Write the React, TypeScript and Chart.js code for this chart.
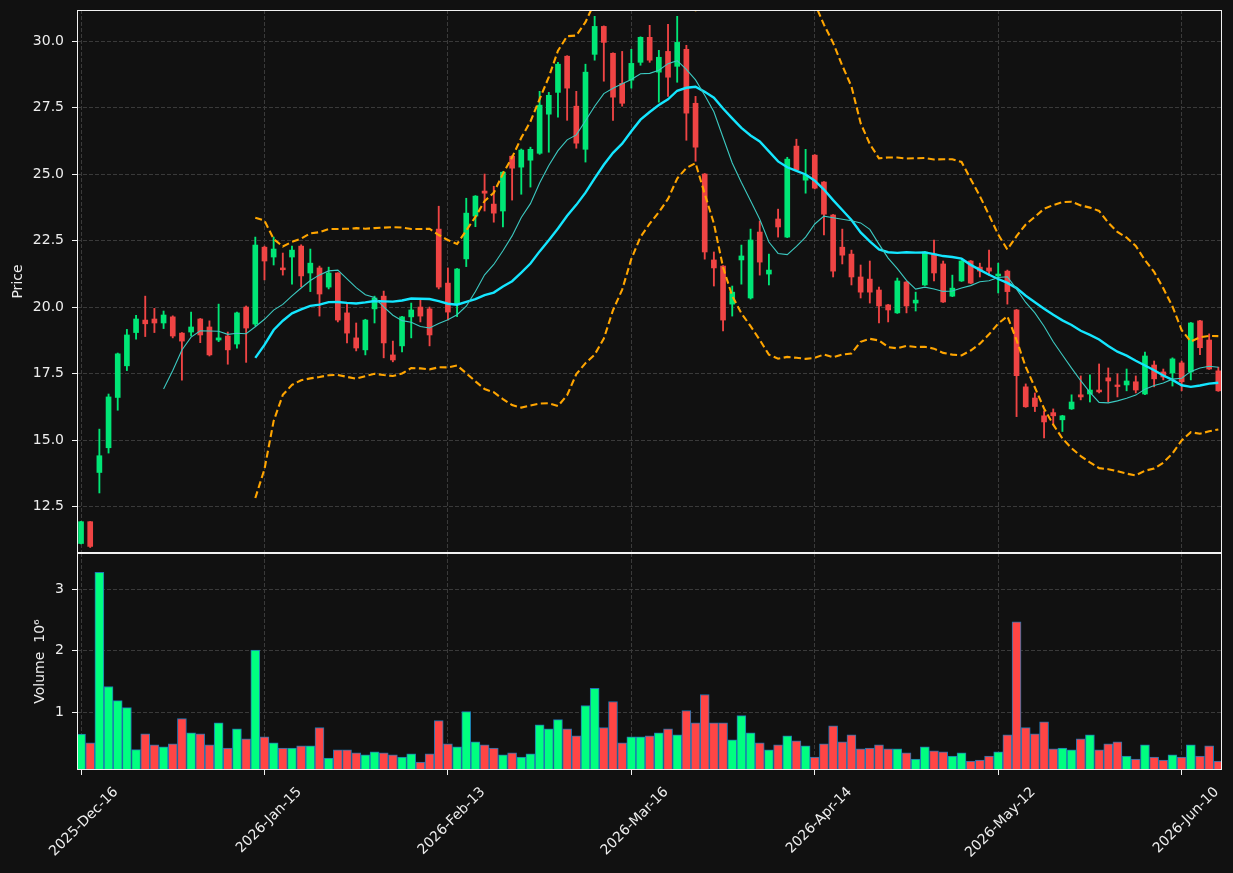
import React, { useEffect, useRef } from 'react';
import { Chart, registerables } from 'chart.js';

Chart.register(...registerables);

// ---- Data ----
const opens = [
  11.12, 11.94, 13.79, 14.72, 16.61, 17.8, 19.05, 19.52, 19.56, 19.41,
  19.64, 19.03, 19.07, 19.56, 19.26, 18.77, 18.92, 18.62, 20.01, 19.37,
  22.26, 21.89, 21.48, 21.89, 22.3, 21.29, 21.48, 20.76, 21.29, 19.79,
  18.85, 18.4, 19.94, 20.42, 18.21, 18.55, 19.64, 20.01, 19.94, 22.94,
  20.91, 20.12, 21.82, 23.43, 24.37, 23.88, 23.62, 25.68, 25.27, 25.53,
  25.79, 27.26, 28.08, 29.44, 27.56, 25.94, 29.51, 30.56, 29.55, 28.42,
  28.54, 29.21, 30.15, 28.84, 29.62, 29.06, 29.7, 27.67, 25.01, 21.78,
  21.55, 20.12, 21.78, 20.35, 22.83, 21.25, 23.32, 22.64, 26.06, 24.78,
  25.72, 24.71, 23.47, 22.26, 22.0, 21.14, 21.06, 20.65, 20.09, 19.79,
  20.95, 20.16, 20.84, 22.0, 21.63, 20.42, 20.99, 21.74, 21.51, 21.48,
  21.18, 21.36, 19.9, 17.01, 16.59, 15.92, 16.04, 15.77, 16.18, 16.71,
  16.74, 16.89, 17.35, 17.08, 17.08, 17.2, 16.74, 17.83, 17.57, 17.53,
  17.91, 17.57, 19.49, 18.77, 17.61,
];
const highs = [
  11.95, 11.95, 15.42, 16.74, 18.28, 19.17, 19.7, 20.42, 19.96, 19.86,
  19.68, 19.05, 19.82, 19.58, 19.49, 20.12, 19.07, 19.82, 20.05, 22.64,
  22.3, 22.64, 22.04, 22.3, 22.35, 22.19, 21.55, 21.51, 21.3, 20.16,
  19.41, 19.55, 20.42, 20.61, 18.73, 19.66, 20.16, 20.31, 20.01, 23.8,
  21.48, 21.46, 24.1, 24.2, 25.01, 24.55, 25.1, 25.7, 25.95, 26.02,
  28.12, 28.08, 29.21, 29.46, 28.12, 29.14, 30.94, 30.58, 29.57, 29.62,
  29.7, 30.17, 30.6, 29.66, 30.64, 30.94, 29.85, 27.93, 25.03, 22.08,
  21.57, 20.8, 22.34, 22.94, 23.24, 22.0, 23.69, 25.64, 26.32, 25.94,
  25.74, 24.73, 23.49, 22.94, 22.15, 21.59, 21.74, 20.76, 20.11, 21.1,
  20.97, 20.57, 22.1, 22.53, 21.74, 21.21, 21.76, 21.76, 21.66, 22.15,
  21.66, 21.4, 19.92, 17.12, 16.78, 16.11, 16.18, 15.94, 16.71, 17.42,
  17.46, 17.87, 17.72, 17.5, 17.68, 17.42, 18.32, 17.98, 17.68, 18.1,
  17.98, 19.43, 19.51, 19.0, 17.75,
];
const lows = [
  11.1, 10.97, 13.02, 14.52, 16.13, 17.62, 18.8, 18.9, 19.05, 19.2,
  18.85, 17.26, 18.92, 18.67, 18.17, 18.71, 17.86, 18.46, 17.93, 19.3,
  21.03, 21.59, 21.21, 20.87, 20.77, 20.59, 19.67, 20.69, 19.45, 18.66,
  18.36, 18.21, 19.41, 18.1, 17.95, 18.32, 18.85, 19.45, 18.55, 20.69,
  19.52, 19.65, 21.53, 23.03, 23.62, 23.2, 23.02, 24.03, 24.25, 24.52,
  25.75, 25.83, 27.15, 27.03, 25.98, 25.46, 29.29, 28.5, 27.03, 27.56,
  28.24, 29.1, 29.21, 27.71, 27.93, 28.46, 26.28, 25.49, 21.81, 20.8,
  19.11, 19.67, 20.87, 20.31, 21.21, 20.84, 22.64, 22.62, 25.14, 24.29,
  24.45, 22.72, 21.14, 21.63, 20.84, 20.35, 20.16, 19.41, 19.45, 19.77,
  19.79, 19.86, 20.82, 20.99, 20.18, 20.4, 20.97, 20.89, 21.14, 21.21,
  20.54, 20.12, 15.89, 16.24, 16.08, 15.09, 15.62, 15.33, 16.16, 16.52,
  16.44, 16.78, 16.44, 16.63, 16.86, 16.78, 16.72, 17.01, 17.27, 17.04,
  16.86, 17.27, 18.22, 17.66, 16.84,
];
const closes = [
  11.94, 11.01, 14.42, 16.63, 18.25, 18.96, 19.56, 19.38, 19.41, 19.71,
  18.92, 18.73, 19.26, 18.96, 18.21, 18.85, 18.4, 19.79, 19.22, 22.34,
  21.74, 22.19, 21.41, 22.15, 21.18, 21.66, 20.5, 21.29, 19.52, 19.03,
  18.47, 19.52, 20.35, 18.66, 18.02, 19.64, 19.9, 19.67, 18.96, 20.76,
  19.82, 21.44, 23.54, 24.18, 24.29, 23.54, 25.08, 25.23, 25.91, 25.94,
  27.6, 27.97, 29.14, 28.24, 26.17, 28.84, 30.56, 29.96, 27.9, 27.67,
  29.17, 30.15, 29.29, 29.4, 28.65, 29.96, 27.3, 26.02, 22.08, 21.48,
  19.52, 20.57, 21.93, 22.53, 21.7, 21.4, 23.02, 25.57, 25.16, 24.97,
  24.48, 23.5, 21.36, 21.96, 21.14, 20.57, 20.57, 20.05, 19.9, 20.99,
  20.05, 20.27, 22.08, 21.29, 20.2, 20.72, 21.74, 20.91, 21.36, 21.36,
  21.25, 20.59, 17.43, 16.26, 16.27, 15.69, 15.92, 15.92, 16.44, 16.63,
  16.89, 16.82, 17.23, 17.02, 17.23, 16.89, 18.17, 17.31, 17.38, 18.06,
  17.2, 19.41, 18.48, 17.68, 16.86,
];
// volume in millions
const volumes = [
  0.645, 0.503, 3.274, 1.42, 1.19, 1.077, 0.393, 0.65, 0.47, 0.44,
  0.487, 0.897, 0.667, 0.65, 0.47, 0.83, 0.42, 0.733, 0.569, 2.01,
  0.6, 0.503, 0.42, 0.42, 0.454, 0.454, 0.75, 0.257, 0.389, 0.389,
  0.34, 0.307, 0.356, 0.34, 0.307, 0.274, 0.323, 0.19, 0.323, 0.864,
  0.487, 0.438, 1.01, 0.52, 0.47, 0.42, 0.307, 0.34, 0.274, 0.323,
  0.798, 0.733, 0.88, 0.733, 0.618, 1.11, 1.39, 0.75, 1.175, 0.503,
  0.6, 0.6, 0.618, 0.667, 0.733, 0.634, 1.03, 0.83, 1.29, 0.83,
  0.83, 0.552, 0.946, 0.667, 0.503, 0.389, 0.47, 0.618, 0.536, 0.454,
  0.274, 0.487, 0.782, 0.52, 0.634, 0.405, 0.42, 0.47, 0.405, 0.405,
  0.34, 0.241, 0.438, 0.372, 0.356, 0.29, 0.34, 0.208, 0.225, 0.29,
  0.356, 0.634, 2.47, 0.75, 0.65, 0.847, 0.405, 0.42, 0.389, 0.569,
  0.634, 0.389, 0.487, 0.52, 0.29, 0.241, 0.47, 0.274, 0.225, 0.307,
  0.274, 0.47, 0.29, 0.454, 0.208,
];
const tickPositions = [0, 20, 40, 60, 80, 100, 120];
const tickLabels = ['2025-Dec-16', '2026-Jan-15', '2026-Feb-13', '2026-Mar-16', '2026-Apr-14', '2026-May-12', '2026-Jun-10'];
const priceTicks = [12.5, 15, 17.5, 20, 22.5, 25, 27.5, 30];
const volumeTicks = [1, 2, 3];

// ---- indicators derived from closes ----
function rollingMean(src: number[], n: number): (number | null)[] {
  return src.map((_, i) => {
    if (i < n - 1) return null;
    const w = src.slice(i - n + 1, i + 1);
    return w.reduce((a, b) => a + b, 0) / n;
  });
}
function rollingStd(src: number[], n: number): (number | null)[] {
  return src.map((_, i) => {
    if (i < n - 1) return null;
    const w = src.slice(i - n + 1, i + 1);
    const m = w.reduce((a, b) => a + b, 0) / n;
    return Math.sqrt(w.reduce((a, b) => a + (b - m) * (b - m), 0) / n);
  });
}

const BG = '#111111';
const UP = '#00e676';
const DOWN = '#ef4444';
const VUP = '#00ff80';
const VDOWN = '#ff4545';
const GRID = '#3a3a3a';
const TEXT = '#eeeeee';
const FONT = 'DejaVu Sans';

const framePlugin = {
  id: 'frame',
  afterDatasetsDraw(chart: any) {
    const { ctx, chartArea: a } = chart;
    ctx.save();
    ctx.strokeStyle = '#f2f2f2';
    ctx.lineWidth = 1;
    ctx.setLineDash([]);
    ctx.strokeRect(a.left + 0.5, a.top + 0.5, a.right - a.left - 1, a.bottom - a.top - 1);
    ctx.restore();
  },
};

export default function App() {
  const priceRef = useRef<HTMLCanvasElement>(null);
  const volRef = useRef<HTMLCanvasElement>(null);

  useEffect(() => {
    document.body.style.margin = '0';
    document.body.style.background = BG;
    Chart.defaults.font.family = FONT;

    const idx = closes.map((_, i) => i);
    const up = closes.map((c, i) => c >= opens[i]);
    const ma10 = rollingMean(closes, 10);
    const ma20 = rollingMean(closes, 20);
    const sd20 = rollingStd(closes, 20);
    const toPts = (arr: (number | null)[]) =>
      arr.map((v, i) => (v == null ? null : { x: i, y: v })).filter((p) => p !== null);
    const upper = ma20.map((m, i) => (m == null ? null : m + 2 * (sd20[i] as number)));
    const lower = ma20.map((m, i) => (m == null ? null : m - 2 * (sd20[i] as number)));

    const xCommon = (showLabels: boolean) => ({
      type: 'linear' as const,
      min: -0.44,
      max: 124.4,
      offset: false,
      afterBuildTicks: (s: any) => {
        s.ticks = tickPositions.map((v) => ({ value: v }));
      },
      afterFit: (s: any) => {
        s.height = showLabels ? 103 : 0;
        s.paddingLeft = 0;
        s.paddingRight = 0;
        s.paddingTop = 0;
        s.paddingBottom = 0;
      },
      border: { display: false, dash: [4, 2] },
      grid: {
        color: GRID,
        lineWidth: 1,
        offset: false,
        drawTicks: showLabels,
        tickLength: 5,
        tickColor: '#f2f2f2',
        tickWidth: 1,
        tickBorderDash: [0, 0],
      },
      ticks: {
        display: showLabels,
        autoSkip: false,
        minRotation: 45,
        maxRotation: 45,
        labelOffset: 35,
        padding: 9,
        color: TEXT,
        font: { size: 14, family: FONT },
        callback: (v: any) => {
          const k = tickPositions.indexOf(Number(v));
          return k >= 0 ? tickLabels[k] : '';
        },
      },
    });

    const yCommon = (min: number, max: number, tks: number[], title: string, titlePad: number, fmt: (v: number) => string) => ({
      type: 'linear' as const,
      min,
      max,
      beginAtZero: false,
      afterBuildTicks: (s: any) => {
        s.ticks = tks.map((v) => ({ value: v }));
      },
      afterFit: (s: any) => {
        s.width = 77;
        s.paddingTop = 0;
        s.paddingBottom = 0;
        s.paddingLeft = 0;
        s.paddingRight = 0;
      },
      border: { display: false, dash: [4, 2] },
      grid: {
        color: GRID,
        lineWidth: 1,
        drawTicks: true,
        tickLength: 5,
        tickColor: '#f2f2f2',
        tickWidth: 1,
        tickBorderDash: [0, 0],
      },
      ticks: {
        color: TEXT,
        padding: 8,
        font: { size: 14, family: FONT },
        callback: (v: any) => fmt(Number(v)),
      },
      title: {
        display: true,
        text: title,
        color: TEXT,
        font: { size: 14, family: FONT },
        padding: { top: titlePad, bottom: 0 },
      },
    });

    const priceChart = new Chart(priceRef.current as HTMLCanvasElement, {
      type: 'bar',
      data: {
        datasets: [
          {
            type: 'line',
            label: 'MA10',
            data: toPts(ma10) as any,
            borderColor: '#3cc9c1',
            borderWidth: 1.1,
            pointRadius: 0,
            tension: 0,
            order: 1,
          },
          {
            type: 'line',
            label: 'MA20',
            data: toPts(ma20) as any,
            borderColor: '#14e6ff',
            borderWidth: 2.4,
            pointRadius: 0,
            tension: 0,
            order: 1,
          },
          {
            type: 'line',
            label: 'BB upper',
            data: toPts(upper) as any,
            borderColor: '#ffa500',
            borderWidth: 2.1,
            borderDash: [7, 3.5],
            pointRadius: 0,
            tension: 0,
            order: 1,
          },
          {
            type: 'line',
            label: 'BB lower',
            data: toPts(lower) as any,
            borderColor: '#ffa500',
            borderWidth: 2.1,
            borderDash: [7, 3.5],
            pointRadius: 0,
            tension: 0,
            order: 1,
          },
          {
            type: 'bar',
            label: 'wick',
            data: idx.map((i) => ({ x: i, y: [lows[i], highs[i]] })) as any,
            backgroundColor: up.map((u) => (u ? UP : DOWN)),
            barThickness: 1.2,
            grouped: false,
            order: 10,
          },
          {
            type: 'bar',
            label: 'body',
            data: idx.map((i) => ({ x: i, y: [opens[i], closes[i]] })) as any,
            backgroundColor: up.map((u) => (u ? UP : DOWN)),
            barThickness: 5,
            grouped: false,
            minBarLength: 1,
            order: 9,
          },
        ],
      },
      options: {
        responsive: false,
        animation: false,
        devicePixelRatio: 1,
        layout: { padding: { top: 10, right: 11, bottom: 1, left: 0 } },
        plugins: { legend: { display: false }, tooltip: { enabled: false } },
        scales: {
          x: xCommon(false) as any,
          y: yCommon(10.763, 31.177, priceTicks, 'Price', 10, (v) => v.toFixed(1)) as any,
        },
      },
      plugins: [framePlugin],
    });

    const volChart = new Chart(volRef.current as HTMLCanvasElement, {
      type: 'bar',
      data: {
        datasets: [
          {
            label: 'Volume',
            data: idx.map((i) => ({ x: i, y: volumes[i] })) as any,
            backgroundColor: up.map((u) => (u ? VUP : VDOWN)),
            borderColor: '#1f77b4',
            borderWidth: 1,
            borderSkipped: false,
            barThickness: 9,
            grouped: false,
          },
        ],
      },
      options: {
        responsive: false,
        animation: false,
        devicePixelRatio: 1,
        layout: { padding: { top: 0, right: 11, bottom: 0, left: 0 } },
        plugins: { legend: { display: false }, tooltip: { enabled: false } },
        scales: {
          x: xCommon(true) as any,
          y: yCommon(0.062, 3.59, volumeTicks, 'Volume  10\u2076', 32, (v) => String(Math.round(v))) as any,
        },
      },
      plugins: [framePlugin],
    });

    return () => {
      priceChart.destroy();
      volChart.destroy();
    };
  }, []);

  return (
    <div style={{ position: 'absolute', left: 0, top: 0, width: 1233, height: 873, background: BG }}>
      <canvas ref={priceRef} width={1233} height={554} style={{ position: 'absolute', left: 0, top: 0 }} />
      <canvas ref={volRef} width={1233} height={320} style={{ position: 'absolute', left: 0, top: 553 }} />
    </div>
  );
}
